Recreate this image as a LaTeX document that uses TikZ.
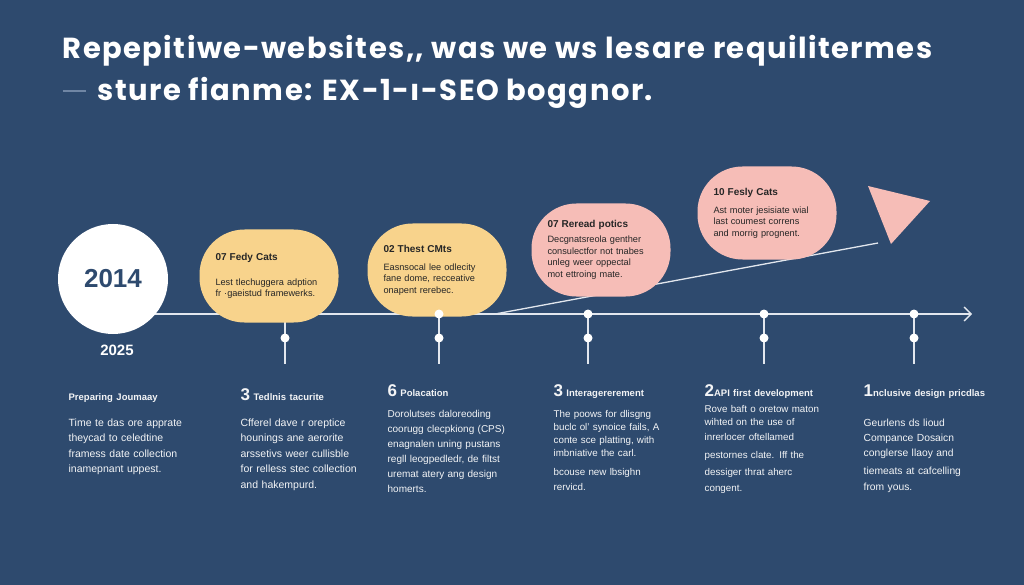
\documentclass[tikz,border=0pt]{standalone}
\usepackage{fontspec}
\setmainfont{Liberation Sans}
\newfontfamily\titlefont[LetterSpace=5]{Poppins}
\usetikzlibrary{arrows.meta}
\definecolor{bgblue}{RGB}{46,74,110}
\definecolor{sand}{RGB}{248,211,140}
\definecolor{blush}{RGB}{246,189,183}
\definecolor{rail}{RGB}{226,231,238}
\definecolor{dashgray}{RGB}{112,134,164}
\newcommand{\bubtitle}[1]{{\bfseries\fontsize{10}{11}\selectfont #1}}
\newcommand{\coltitle}[2]{{\bfseries\fontsize{17}{17}\selectfont #1}{\bfseries\fontsize{9.5}{11}\selectfont #2}}

\begin{document}
\begin{tikzpicture}[x=1pt,y=-1pt,>={Straight Barb[length=7pt,width=14pt]},
  line width=1.3pt,
  title node/.style={font=\titlefont\bfseries\fontsize{29}{34}\selectfont,text=white,anchor=base west,inner sep=0pt},
  bubble node/.style={rounded corners=45pt,minimum width=139pt,minimum height=93pt,text width=107pt,align=left,inner xsep=16pt,font=\fontsize{9.2}{11.5}\selectfont,text=black!85},
  col node/.style={anchor=base west,inner sep=0pt,text width=175pt,align=left,text=white!94!bgblue,font=\fontsize{10.5}{15.5}\selectfont},
  dot node/.style={circle,fill=white,inner sep=0pt,minimum size=9pt}]

  \fill[bgblue] (0,0) rectangle (1024,585);
  \useasboundingbox (0,0) rectangle (1024,585);

  % heading
  \node[title node] (head1) at (62,59)
    {Repepitiwe-websites,, was we ws lesare requilitermes};
  \node[title node] (head2) at (62,101)
    {\textcolor{dashgray}{\rule[9pt]{23pt}{2pt}}\hspace{12pt}sture fianme: EX-1-\i-SEO boggnor.};

  % time line
  \coordinate (railstart) at (140,314);
  \coordinate (railend) at (972,314);
  \coordinate (risestart) at (495,314);
  \coordinate (riseend) at (878,243);
  \coordinate (t1) at (285,314);
  \coordinate (t2) at (439,314);
  \coordinate (t3) at (588,314);
  \coordinate (t4) at (764,314);
  \coordinate (t5) at (914,314);
  \coordinate (b1) at (285,364);
  \coordinate (b2) at (439,364);
  \coordinate (b3) at (588,364);
  \coordinate (b4) at (764,364);
  \coordinate (b5) at (914,364);

  \path[draw=rail]
    (t1) edge (b1)
    (t2) edge (b2)
    (t3) edge (b3)
    (t4) edge (b4)
    (t5) edge (b5)
    (risestart) edge (riseend);
  \draw[->,rail] (railstart) -- (railend);
  \fill[blush] (868,186) -- (930,201) -- (891,244) -- cycle;

  \node[circle,fill=white,minimum size=110pt,inner sep=0pt,
    font=\bfseries\fontsize{26}{26}\selectfont,text=bgblue] (yr) at (113,279) {2014};
  \node[font=\bfseries\fontsize{15}{15}\selectfont,text=white] (yr2) at (117,350) {2025};

  % bubbles
  \node[bubble node,fill=sand] (bub1) at (269,276)
    {\bubtitle{07 Fedy Cats}\\[13.5pt]
     Lest tlechuggera adption\\
     fr \textperiodcentered gaeistud framewerks.};
  \node[bubble node,fill=sand] (bub2) at (437,270)
    {\bubtitle{02 Thest CMts}\\[6.5pt]
     Easnsocal lee odlecity\\
     fane dome, recceative\\
     onapent rerebec.};
  \node[bubble node,fill=blush] (bub3) at (601,250)
    {\bubtitle{07 Reread potics}\\[3.5pt]
     Decgnatsreola genther\\
     consulectfor not tnabes\\
     unleg weer oppectal\\
     mot ettroing mate.};
  \node[bubble node,fill=blush] (bub4) at (767,213)
    {\bubtitle{10 Fesly Cats}\\[6.5pt]
     Ast moter jesisiate wial\\
     last coumest correns\\
     and morrig prognent.};

  % markers
  \node[dot node] (m2) at (t2) {};
  \node[dot node] (m3) at (t3) {};
  \node[dot node] (m4) at (t4) {};
  \node[dot node] (m5) at (t5) {};
  \node[dot node] (n1) at (285,338) {};
  \node[dot node] (n2) at (439,338) {};
  \node[dot node] (n3) at (588,338) {};
  \node[dot node] (n4) at (764,338) {};
  \node[dot node] (n5) at (914,338) {};

  % columns
  \node[col node] (col1) at (68,400)
    {\coltitle{}{Preparing Joumaay}\\[10.5pt]
     Time te das ore apprate\\
     theycad to celedtine\\
     framess date collection\\
     inamepnant uppest.};
  \node[col node] (col2) at (240,400)
    {\coltitle{3 }{Tedlnis tacurite}\\[10.5pt]
     Cfferel dave r oreptice\\
     hounings ane aerorite\\
     arssetivs weer cullisble\\
     for relless stec collection\\
     and hakempurd.};
  \node[col node,font=\fontsize{10}{15}\selectfont] (col3) at (387,396)
    {\coltitle{6 }{Polacation}\\[6pt]
     Dorolutses daloreoding\\
     coorugg clecpkiong (CPS)\\
     enagnalen uning pustans\\
     regll leogpedledr, de filtst\\
     uremat atery ang design\\
     homerts.};
  \node[col node,font=\fontsize{9.8}{13}\selectfont] (col4) at (553,396)
    {\coltitle{3 }{Interagererement}\\[8pt]
     The poows for dlisgng\\
     buclc ol' synoice fails, A\\
     conte sce platting, with\\
     imbniative the carl.\\[6pt]
     bcouse new lbsighn\\[2pt]
     rervicd.};
  \node[col node,font=\fontsize{9.8}{13}\selectfont] (col5) at (704,396)
    {\coltitle{2}{API first development}\\[3pt]
     Rove baft o oretow maton\\
     wihted on the use of\\[2pt]
     inrerlocer oftellamed\\[5pt]
     pestornes clate. Iff the\\[4pt]
     dessiger thrat aherc\\[3pt]
     congent.};
  \node[col node,font=\fontsize{10.3}{15}\selectfont] (col6) at (863,396)
    {\coltitle{1}{nclusive design pricdlas}\\[15pt]
     Geurlens ds lioud\\
     Compance Dosaicn\\
     conglerse llaoy and\\[3pt]
     tiemeats at cafcelling\\[1pt]
     from yous.};

\end{tikzpicture}
\end{document}
